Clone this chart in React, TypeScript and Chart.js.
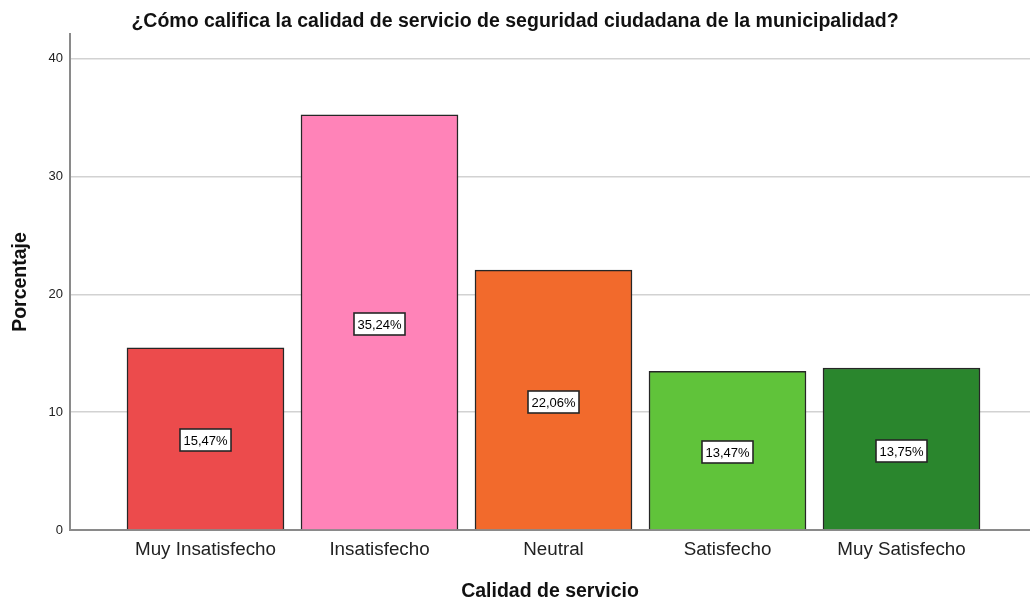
import React, { useEffect, useRef } from "react";
import { Chart, registerables } from "chart.js";

Chart.register(...registerables);

const TITLE = "¿Cómo califica la calidad de servicio de seguridad ciudadana de la municipalidad?";
const X_TITLE = "Calidad de servicio";
const Y_TITLE = "Porcentaje";
const categories = ["Muy Insatisfecho", "Insatisfecho", "Neutral", "Satisfecho", "Muy Satisfecho"];
const percentages = [15.47, 35.24, 22.06, 13.47, 13.75];
const barColors = ["#EC4B4C", "#FF83B8", "#F26A2C", "#60C33A", "#2A862D"];
const yTicks = [0, 10, 20, 30, 40];

const FONT = "'Liberation Sans', Arial, sans-serif";

const labelPlugin = {
  id: "barLabels",
  afterDatasetsDraw(chart: any) {
    const ctx = chart.ctx;
    const meta = chart.getDatasetMeta(0);
    ctx.save();
    ctx.font = `13px ${FONT}`;
    ctx.textAlign = "center";
    ctx.textBaseline = "middle";
    meta.data.forEach((el: any, i: number) => {
      const text = percentages[i].toFixed(2).replace(".", ",") + "%";
      const cx = el.x;
      const cy = (el.y + el.base) / 2 + 2;
      const w = Math.round(ctx.measureText(text).width + 7);
      const h = 22;
      const x0 = Math.round(cx - w / 2);
      const y0 = Math.round(cy - h / 2);
      ctx.fillStyle = "#ffffff";
      ctx.fillRect(x0, y0, w, h);
      ctx.strokeStyle = "#262626";
      ctx.lineWidth = 1.6;
      ctx.strokeRect(x0, y0, w, h);
      ctx.fillStyle = "#000000";
      ctx.fillText(text, x0 + w / 2, y0 + h / 2 + 1);
    });
    ctx.restore();
  },
};

export default function App() {
  const ref = useRef<HTMLCanvasElement>(null);
  useEffect(() => {
    if (!ref.current) return;
    const chart = new Chart(ref.current, {
      type: "bar",
      data: {
        datasets: [
          {
            data: percentages.map((v, i) => ({ x: i, y: v })),
            backgroundColor: barColors,
            borderColor: "#262626",
            borderWidth: 1.5,
            barThickness: 157,
          },
        ],
      },
      options: {
        animation: false,
        responsive: true,
        maintainAspectRatio: false,
        layout: { padding: { left: 0, right: 0, top: 0, bottom: 0 } },
        plugins: {
          legend: { display: false },
          tooltip: { enabled: false },
          title: {
            display: true,
            text: TITLE,
            color: "#111111",
            font: { family: FONT, size: 19.5, weight: "bold", lineHeight: 1.2 },
            padding: { top: 10, bottom: 0.6 },
          },
        },
        scales: {
          x: {
            type: "linear",
            offset: false,
            min: -0.7787,
            max: 4.7385,
            grid: { display: false, drawTicks: false, offset: false },
            border: { display: true, color: "#8a8a8a", width: 2 },
            afterBuildTicks: (axis: any) => {
              axis.ticks = categories.map((_, i) => ({ value: i }));
            },
            afterFit: (axis: any) => {
              axis.height = 71;
            },
            ticks: {
              callback: (v: any) => categories[v] ?? "",
              color: "#222222",
              font: { family: FONT, size: 18.8 },
              padding: 9,
              autoSkip: false,
              maxRotation: 0,
            },
            title: {
              display: true,
              text: X_TITLE,
              color: "#111111",
              font: { family: FONT, size: 19.5, weight: "bold", lineHeight: 1 },
              padding: { top: 0, bottom: 0 },
            },
          },
          y: {
            min: 0,
            max: 42.1,
            grid: { color: "#d2d2d2", lineWidth: 1.5, drawTicks: false },
            border: { display: true, color: "#8a8a8a", width: 2 },
            afterBuildTicks: (axis: any) => {
              axis.ticks = yTicks.map((v) => ({ value: v }));
            },
            afterFit: (axis: any) => {
              axis.width = 70;
            },
            ticks: {
              color: "#222222",
              font: { family: FONT, size: 13 },
              padding: 7,
            },
            title: {
              display: true,
              text: Y_TITLE,
              color: "#111111",
              font: { family: FONT, size: 19.5, weight: "bold" },
              padding: { top: 8.5, bottom: 0 },
            },
          },
        },
      },
      plugins: [labelPlugin],
    } as any);
    return () => chart.destroy();
  }, []);
  return (
    <div style={{ position: "fixed", left: 0, top: 0, width: 1030, height: 601, background: "#fff" }}>
      <canvas ref={ref} />
    </div>
  );
}
